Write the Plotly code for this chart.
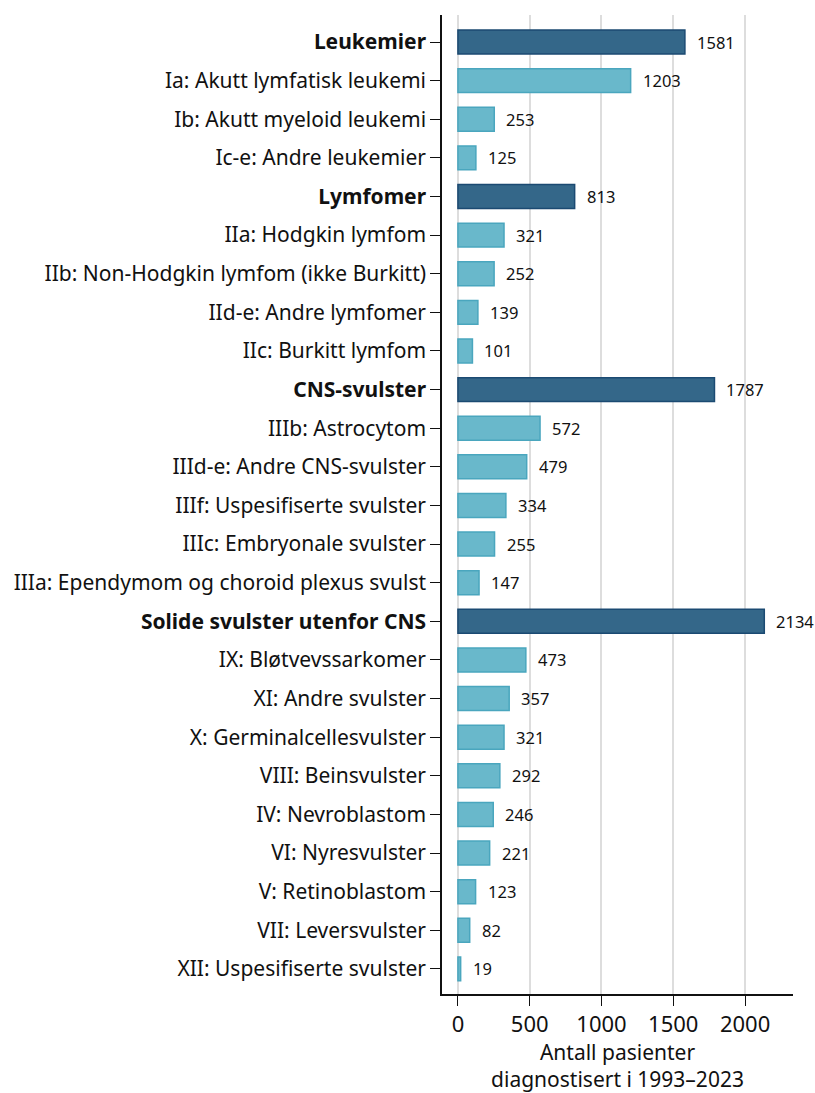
import plotly.graph_objects as go

categories = [
    "Leukemier", "Ia: Akutt lymfatisk leukemi", "Ib: Akutt myeloid leukemi", "Ic-e: Andre leukemier",
    "Lymfomer", "IIa: Hodgkin lymfom", "IIb: Non-Hodgkin lymfom (ikke Burkitt)", "IId-e: Andre lymfomer",
    "IIc: Burkitt lymfom",
    "CNS-svulster", "IIIb: Astrocytom", "IIId-e: Andre CNS-svulster", "IIIf: Uspesifiserte svulster",
    "IIIc: Embryonale svulster", "IIIa: Ependymom og choroid plexus svulst",
    "Solide svulster utenfor CNS", "IX: Bløtvevssarkomer", "XI: Andre svulster", "X: Germinalcellesvulster",
    "VIII: Beinsvulster", "IV: Nevroblastom", "VI: Nyresvulster", "V: Retinoblastom",
    "VII: Leversvulster", "XII: Uspesifiserte svulster",
]
values = [1581, 1203, 253, 125, 813, 321, 252, 139, 101, 1787, 572, 479, 334, 255, 147,
          2134, 473, 357, 321, 292, 246, 221, 123, 82, 19]
main_groups = ["Leukemier", "Lymfomer", "CNS-svulster", "Solide svulster utenfor CNS"]

FONT = "Noto Sans"
idx = list(range(len(categories)))
fill = ["#346789" if c in main_groups else "#69b8cb" for c in categories]
line = ["#1b4a72" if c in main_groups else "#4aa6be" for c in categories]
ticktext = [f"<b>{c}</b>" if c in main_groups else c for c in categories]

fig = go.Figure(go.Bar(
    x=values, y=idx, orientation="h",
    marker=dict(color=fill, line=dict(color=line, width=1.5)),
    width=0.62, hoverinfo="skip",
))

for v, i in zip(values, idx):
    fig.add_annotation(x=v, y=i, text=str(v), showarrow=False,
                       xanchor="left", yanchor="middle", xshift=10,
                       font=dict(size=16.5, family=FONT, color="#111111"))

fig.update_layout(
    width=815, height=1093,
    margin=dict(l=442, r=22, t=15, b=99, autoexpand=False),
    plot_bgcolor="white", paper_bgcolor="white",
    font=dict(family=FONT, color="#111111"),
    showlegend=False,
)
fig.update_yaxes(
    tickmode="array", tickvals=idx, ticktext=ticktext,
    range=[24.65, -0.70],
    showline=True, linecolor="#111111", linewidth=1.5,
    ticks="outside", ticklen=10, tickcolor="#111111", tickwidth=1.2,
    tickfont=dict(size=21, family=FONT, color="#111111"),
    showgrid=False, zeroline=False, automargin=False,
)
fig.update_xaxes(
    range=[-111, 2334],
    tickvals=[0, 500, 1000, 1500, 2000],
    showline=True, linecolor="#111111", linewidth=1.5,
    ticks="outside", ticklen=10, tickcolor="#111111",
    tickfont=dict(size=22, family=FONT, color="#111111"),
    showgrid=True, gridcolor="#dddddd", gridwidth=2,
    zeroline=False, automargin=False,
    title=dict(text="Antall pasienter<br>diagnostisert i 1993–2023",
               font=dict(size=21, family=FONT, color="#111111"), standoff=15),
)

page_style = "document.body.style.margin='0';document.body.style.overflow='hidden';"
fig.write_html("out.html", post_script=page_style, config={"displayModeBar": False})
